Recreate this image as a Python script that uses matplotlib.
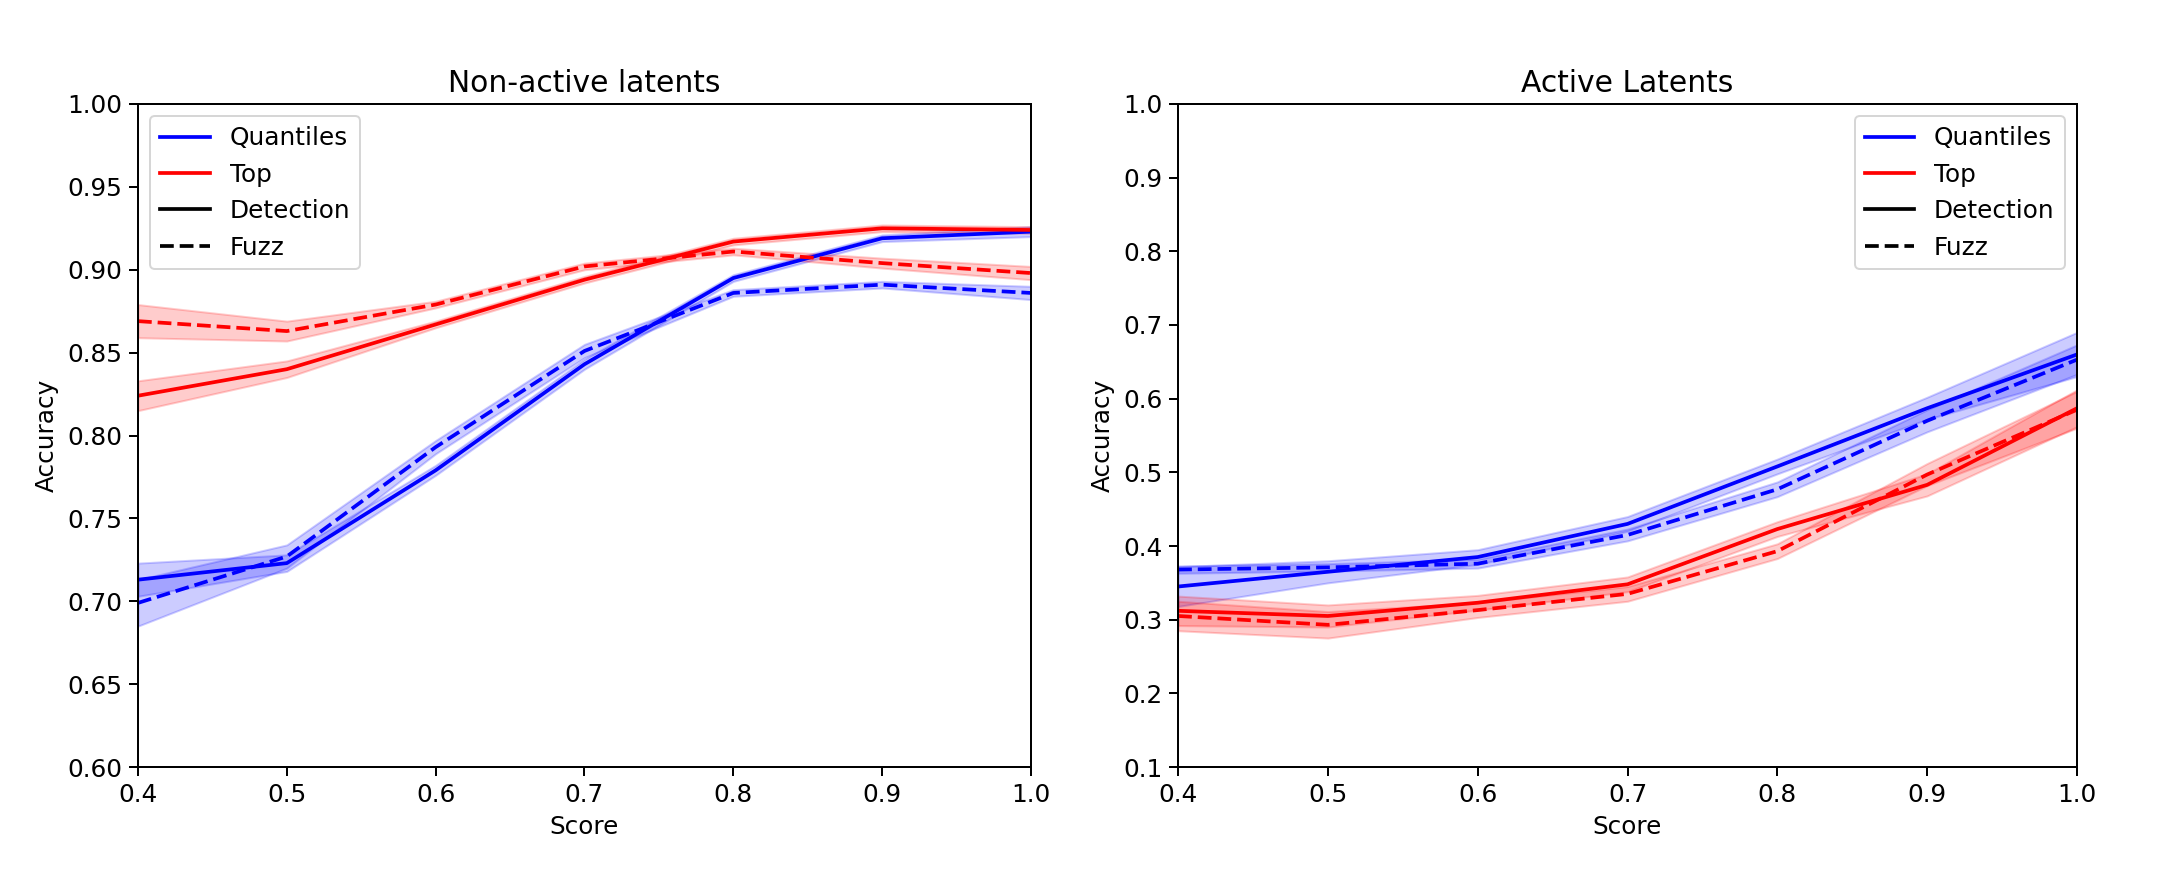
import matplotlib
matplotlib.use("Agg")
import matplotlib.pyplot as plt
import numpy as np
from matplotlib.lines import Line2D

scores = [0.4, 0.5, 0.6, 0.7, 0.8, 0.9, 1.0]

# Non-active latents
na_quant_det = [0.713, 0.723, 0.779, 0.843, 0.895, 0.919, 0.923]
na_quant_det_err = [0.010, 0.005, 0.003, 0.003, 0.002, 0.002, 0.003]
na_quant_fuzz = [0.699, 0.727, 0.793, 0.851, 0.886, 0.891, 0.886]
na_quant_fuzz_err = [0.014, 0.007, 0.004, 0.004, 0.002, 0.002, 0.004]
na_top_det = [0.824, 0.840, 0.867, 0.894, 0.917, 0.925, 0.924]
na_top_det_err = [0.009, 0.005, 0.002, 0.002, 0.002, 0.002, 0.002]
na_top_fuzz = [0.869, 0.863, 0.879, 0.902, 0.911, 0.904, 0.898]
na_top_fuzz_err = [0.010, 0.006, 0.002, 0.002, 0.002, 0.003, 0.004]

# Active latents
ac_quant_det = [0.345, 0.365, 0.385, 0.430, 0.508, 0.587, 0.660]
ac_quant_det_err = [0.027, 0.015, 0.010, 0.010, 0.010, 0.015, 0.030]
ac_quant_fuzz = [0.368, 0.371, 0.376, 0.415, 0.477, 0.570, 0.653]
ac_quant_fuzz_err = [0.005, 0.005, 0.006, 0.008, 0.010, 0.015, 0.020]
ac_top_det = [0.312, 0.305, 0.323, 0.348, 0.423, 0.483, 0.587]
ac_top_det_err = [0.020, 0.015, 0.010, 0.010, 0.010, 0.015, 0.025]
ac_top_fuzz = [0.305, 0.293, 0.313, 0.335, 0.393, 0.497, 0.585]
ac_top_fuzz_err = [0.020, 0.018, 0.010, 0.010, 0.010, 0.015, 0.025]

# reference was rendered at a larger dpi; scale text and strokes to match
S = 1.24
plt.rcParams.update({
    "font.size": 10 * S,
    "axes.linewidth": 0.8 * S,
    "xtick.major.width": 0.8 * S,
    "ytick.major.width": 0.8 * S,
    "xtick.major.size": 3.5 * S,
    "ytick.major.size": 3.5 * S,
})


def draw(ax, series, title, ylim, yticks, legend_loc):
    x = np.array(scores)
    for y, err, color, ls in series:
        y = np.array(y)
        err = np.array(err)
        ax.plot(x, y, color=color, linestyle=ls, linewidth=1.5 * S)
        ax.fill_between(x, y - err, y + err, color=color, alpha=0.2)
    ax.set_xlim(0.4, 1.0)
    ax.set_ylim(*ylim)
    ax.set_yticks(yticks)
    ax.set_xlabel("Score")
    ax.set_ylabel("Accuracy")
    ax.set_title(title, fontsize=12 * S)
    handles = [
        Line2D([0], [0], color="blue", lw=1.5 * S, label="Quantiles"),
        Line2D([0], [0], color="red", lw=1.5 * S, label="Top"),
        Line2D([0], [0], color="black", lw=1.5 * S, label="Detection"),
        Line2D([0], [0], color="black", lw=1.5 * S, linestyle="--", label="Fuzz"),
    ]
    ax.legend(handles=handles, loc=legend_loc)


fig = plt.figure(figsize=(2166 / 144, 871 / 144), dpi=144)
ax1 = fig.add_axes([0.0637, 0.1194, 0.4123, 0.7612])
ax2 = fig.add_axes([0.5439, 0.1194, 0.4150, 0.7612])

draw(ax1, [
    (na_quant_det, na_quant_det_err, "blue", "-"),
    (na_quant_fuzz, na_quant_fuzz_err, "blue", "--"),
    (na_top_det, na_top_det_err, "red", "-"),
    (na_top_fuzz, na_top_fuzz_err, "red", "--"),
], "Non-active latents", (0.6, 1.0), np.arange(0.60, 1.001, 0.05), "upper left")

draw(ax2, [
    (ac_quant_det, ac_quant_det_err, "blue", "-"),
    (ac_quant_fuzz, ac_quant_fuzz_err, "blue", "--"),
    (ac_top_det, ac_top_det_err, "red", "-"),
    (ac_top_fuzz, ac_top_fuzz_err, "red", "--"),
], "Active Latents", (0.1, 1.0), np.arange(0.1, 1.001, 0.1), "upper right")

fig.savefig("out.png", dpi=144)
